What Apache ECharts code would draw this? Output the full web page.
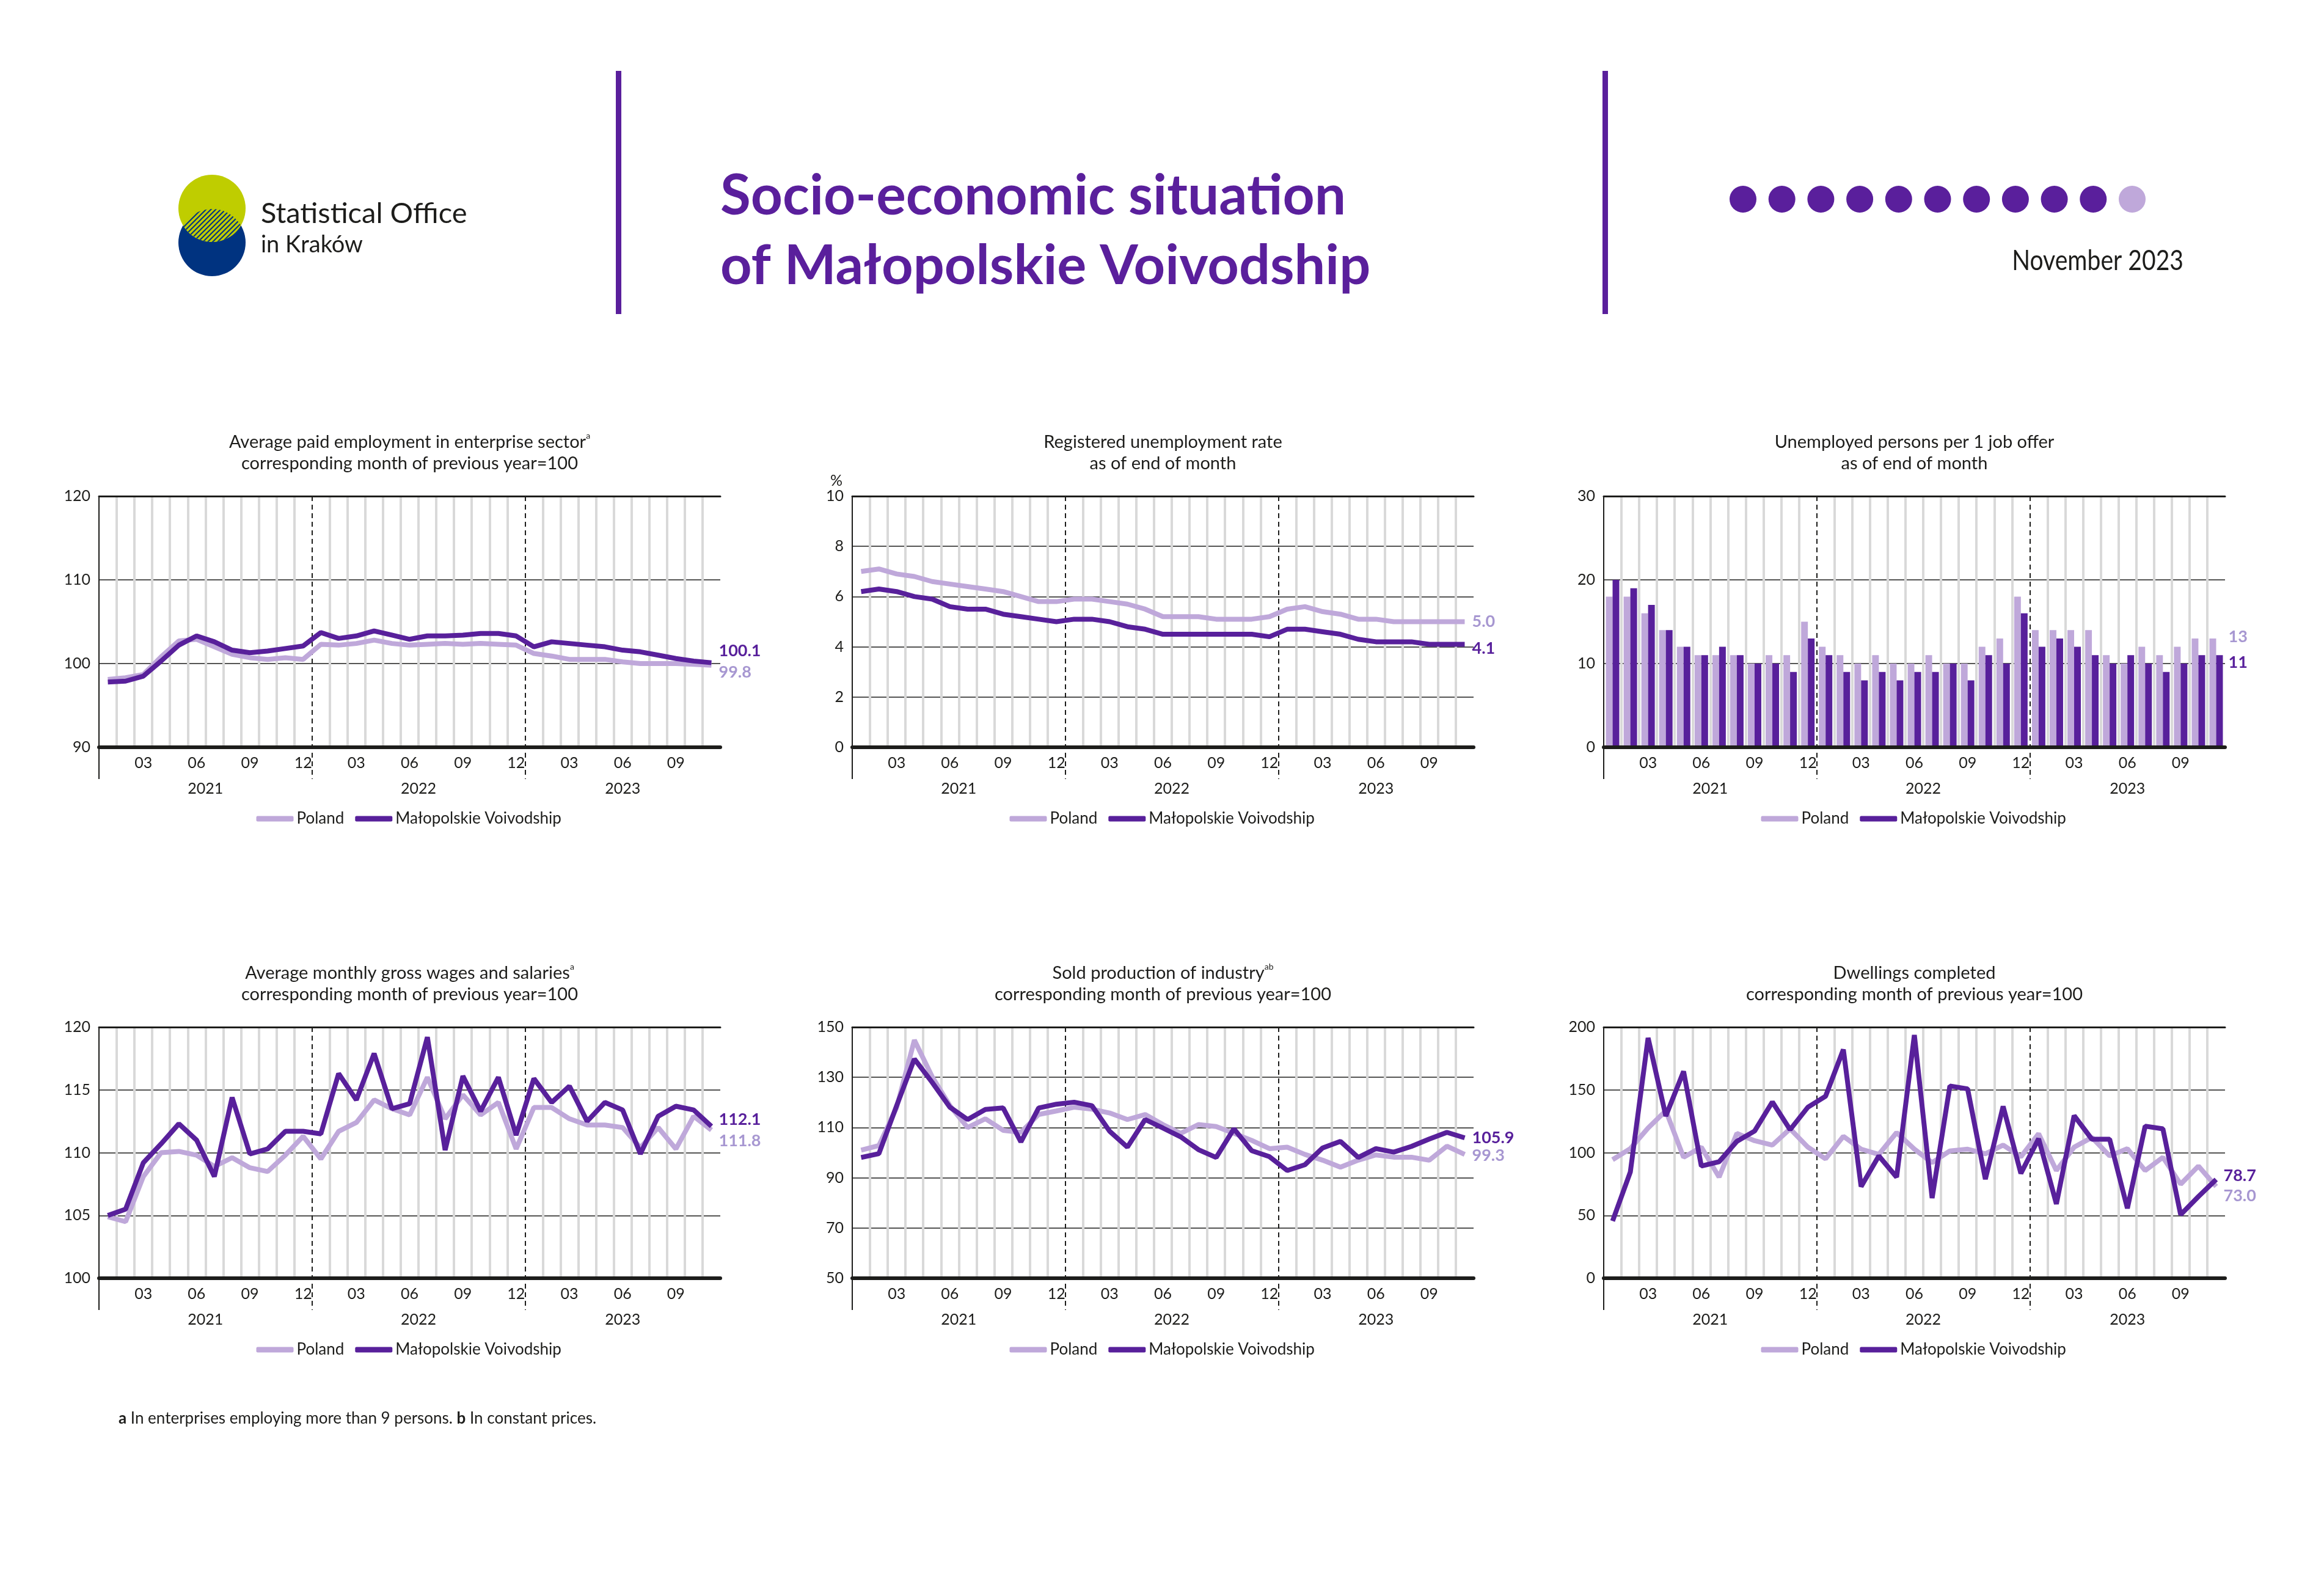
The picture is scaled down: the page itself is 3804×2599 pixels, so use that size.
<!DOCTYPE html>
<html lang="en">
<head>
<meta charset="UTF-8">
<title>Socio-economic situation of Małopolskie Voivodship</title>
<script src="https://cdn.jsdelivr.net/npm/echarts@6/dist/echarts.min.js"></script>
<style>
    html, body { margin: 0; padding: 0; background: #fff; }
    #main { width: 3804px; height: 2599px; }
</style>
</head>
<body>
<div id="main"></div>
<script>
// Jan 2021 .. Nov 2023
const months = ['01','02','03','04','05','06','07','08','09','10','11','12',
                '01','02','03','04','05','06','07','08','09','10','11','12',
                '01','02','03','04','05','06','07','08','09','10','11'];
const years = ['2021', '2022', '2023'];
const shownMonths = ['03', '06', '09', '12'];
const seriesNames = ['Poland', 'Małopolskie Voivodship'];

const employmentPoland = [98.1, 98.3, 98.7, 100.8, 102.7, 102.9, 102.0, 101.1, 100.7, 100.5, 100.7, 100.5,
    102.3, 102.2, 102.4, 102.8, 102.4, 102.2, 102.3, 102.4, 102.3, 102.4, 102.3, 102.2,
    101.2, 100.9, 100.5, 100.5, 100.5, 100.2, 100.0, 100.0, 100.0, 99.9, 99.8];
const employmentRegion = [97.8, 97.9, 98.5, 100.3, 102.2, 103.3, 102.6, 101.6, 101.3, 101.5, 101.8, 102.1,
    103.7, 103.0, 103.3, 103.9, 103.4, 102.9, 103.3, 103.3, 103.4, 103.6, 103.6, 103.3,
    102.0, 102.6, 102.4, 102.2, 102.0, 101.6, 101.4, 101.0, 100.6, 100.3, 100.1];

const unemploymentPoland = [7.0, 7.1, 6.9, 6.8, 6.6, 6.5, 6.4, 6.3, 6.2, 6.0, 5.8, 5.8,
    5.9, 5.9, 5.8, 5.7, 5.5, 5.2, 5.2, 5.2, 5.1, 5.1, 5.1, 5.2,
    5.5, 5.6, 5.4, 5.3, 5.1, 5.1, 5.0, 5.0, 5.0, 5.0, 5.0];
const unemploymentRegion = [6.2, 6.3, 6.2, 6.0, 5.9, 5.6, 5.5, 5.5, 5.3, 5.2, 5.1, 5.0,
    5.1, 5.1, 5.0, 4.8, 4.7, 4.5, 4.5, 4.5, 4.5, 4.5, 4.5, 4.4,
    4.7, 4.7, 4.6, 4.5, 4.3, 4.2, 4.2, 4.2, 4.1, 4.1, 4.1];

const jobOfferPoland = [18, 18, 16, 14, 12, 11, 11, 11, 10, 11, 11, 15,
    12, 11, 10, 11, 10, 10, 11, 10, 10, 12, 13, 18,
    14, 14, 14, 14, 11, 10, 12, 11, 12, 13, 13];
const jobOfferRegion = [20, 19, 17, 14, 12, 11, 12, 11, 10, 10, 9, 13,
    11, 9, 8, 9, 8, 9, 9, 10, 8, 11, 10, 16,
    12, 13, 12, 11, 10, 11, 10, 9, 10, 11, 11];

const wagesPoland = [104.9, 104.5, 108.1, 110.0, 110.1, 109.8, 108.9, 109.6, 108.8, 108.5, 109.8, 111.3,
    109.5, 111.7, 112.4, 114.2, 113.5, 113.0, 116.0, 112.7, 114.6, 113.0, 114.0, 110.3,
    113.6, 113.6, 112.7, 112.2, 112.2, 112.0, 110.4, 112.0, 110.3, 112.9, 111.8];
const wagesRegion = [105.0, 105.5, 109.2, 110.7, 112.3, 111.0, 108.1, 114.4, 109.9, 110.3, 111.7, 111.7,
    111.5, 116.3, 114.2, 117.9, 113.5, 113.9, 119.2, 110.2, 116.1, 113.3, 116.0, 111.4,
    115.9, 114.0, 115.3, 112.5, 114.0, 113.4, 109.9, 112.9, 113.7, 113.4, 112.1];

const productionPoland = [101.0, 102.8, 118.0, 144.8, 130.3, 118.7, 110.0, 113.5, 108.9, 108.1, 115.2, 116.6,
    118.1, 117.3, 115.8, 113.2, 115.2, 111.2, 107.7, 111.2, 110.4, 107.7, 104.9, 101.6,
    102.2, 99.3, 97.0, 94.2, 97.0, 99.1, 98.2, 98.2, 97.0, 102.6, 99.3];
const productionRegion = [98.1, 99.6, 118.7, 137.3, 128.0, 118.1, 113.2, 117.2, 117.8, 104.3, 117.8, 119.3,
    120.1, 118.7, 108.5, 102.2, 113.2, 109.8, 106.3, 101.2, 98.1, 109.5, 100.8, 98.4,
    92.9, 95.2, 101.9, 104.5, 98.1, 101.6, 100.2, 102.5, 105.4, 108.1, 105.9];

const dwellingsPoland = [94.4, 103.2, 119.6, 133.4, 96.3, 104.4, 80.5, 115.3, 109.5, 106.0, 119.0, 104.4,
    95.1, 113.0, 102.8, 98.6, 116.0, 102.8, 92.1, 101.4, 102.8, 99.1, 106.0, 96.7,
    115.1, 85.8, 104.4, 112.1, 97.4, 103.2, 85.8, 96.3, 74.9, 89.3, 73.0];
const dwellingsRegion = [45.6, 84.6, 191.4, 129.2, 164.7, 89.3, 92.8, 109.0, 117.2, 140.4, 118.3, 136.2,
    145.0, 182.1, 73.0, 97.4, 80.5, 193.7, 63.8, 153.1, 150.8, 78.9, 136.9, 83.5,
    111.1, 59.2, 129.5, 110.7, 110.7, 55.7, 121.1, 119.0, 50.6, 65.0, 78.7];

const perYear = 'corresponding month of previous year=100';
const endOfMonth = 'as of end of month';

const panels = [
    { title: 'Average paid employment in enterprise sector', sup: 'a', sub: perYear, min: 90, max: 120, step: 10,
      kind: 'line', poland: employmentPoland, region: employmentRegion, shift: [12, -19] },
    { title: 'Registered unemployment rate', sup: '', sub: endOfMonth, min: 0, max: 10, step: 2, unit: '%',
      kind: 'line', poland: unemploymentPoland, region: unemploymentRegion, shift: [0, 7] },
    { title: 'Unemployed persons per 1 job offer', sup: '', sub: endOfMonth, min: 0, max: 30, step: 10,
      kind: 'bar', poland: jobOfferPoland, region: jobOfferRegion, shift: [-3, 12] },
    { title: 'Average monthly gross wages and salaries', sup: 'a', sub: perYear, min: 100, max: 120, step: 5,
      kind: 'line', poland: wagesPoland, region: wagesRegion, shift: [18, -11] },
    { title: 'Sold production of industry', sup: 'ab', sub: perYear, min: 50, max: 150, step: 20,
      kind: 'line', poland: productionPoland, region: productionRegion, shift: [2, 0] },
    { title: 'Dwellings completed', sup: '', sub: perYear, min: 0, max: 200, step: 50,
      kind: 'line', poland: dwellingsPoland, region: dwellingsRegion, shift: [15, -6] }
];

// layout
const colLeft = [162, 1395, 2625];
const rowTop = [812, 1681];
const plotW = 1017, plotH = 411;
const below = 52;       // separators reach down into the year label band
const ink = '#1d1d1b';
const lightColor = '#bfa8da';
const darkColor = '#58209b';
const lightLabel = '#a797d1';
const font = 'Lato';
const clear = 'rgba(0,0,0,0)';

// year boundaries from the month list
const yearStarts = months.map((m, i) => (m === '01' && i > 0) ? i : -1).filter(i => i > 0);
const yearBounds = [0, ...yearStarts, months.length];
const yearCenters = years.map((y, i) => (yearBounds[i] + yearBounds[i + 1]) / 2);
// gray month separators, min and max lines skipped -> first drawn line is boundary 1
const monthLineColors = [];
for (let b = 1; b < months.length; b++) {
    monthLineColors.push(yearStarts.includes(b) ? clear : '#d9d9d9');
}

const grids = [], xAxes = [], yAxes = [], series = [], legends = [], graphics = [];

panels.forEach((p, g) => {
    const col = g % 3, row = Math.floor(g / 3);
    const left = colLeft[col], top = rowTop[row];
    const cx = left + plotW / 2;
    grids.push({ left: left, top: top, width: plotW, height: plotH, outerBoundsMode: 'none' });

    // months, gray month separators
    xAxes.push({
        type: 'category', gridIndex: g, data: months, position: 'bottom', boundaryGap: true,
        axisLine: { show: false }, axisTick: { show: false },
        axisLabel: { interval: 0, margin: 13, fontSize: 25, fontFamily: font, color: ink,
            formatter: v => shownMonths.includes(v) ? v : '' },
        splitLine: { show: true, interval: 0, showMinLine: false, showMaxLine: false,
            lineStyle: { color: monthLineColors, width: 4 } }
    });
    // years, base line, left axis extension
    xAxes.push({
        type: 'value', gridIndex: g, min: 0, max: months.length, position: 'bottom', z: 5,
        axisLine: { show: true, onZero: false, lineStyle: { color: ink, width: 6 } },
        axisTick: { show: true, customValues: [0], length: below, lineStyle: { color: ink, width: 2 } },
        axisLabel: { customValues: yearCenters, margin: 55, fontSize: 25, fontFamily: font, color: ink,
            formatter: v => years[yearCenters.indexOf(v)] || '' },
        splitLine: { show: false }
    });
    // top frame line; its inward ticks are the dashed year separators
    xAxes.push({
        type: 'value', gridIndex: g, min: 0, max: months.length, position: 'top',
        axisLine: { show: true, onZero: false, lineStyle: { color: ink, width: 3 } },
        axisTick: { show: true, inside: true, customValues: yearStarts, length: plotH + below,
            lineStyle: { color: ink, width: 2, type: [8, 6] } },
        axisLabel: { show: false }, splitLine: { show: false }
    });

    yAxes.push({
        type: 'value', gridIndex: g, min: p.min, max: p.max, interval: p.step,
        name: p.unit || '', nameLocation: 'end', nameGap: 8,
        nameTextStyle: { align: 'right', verticalAlign: 'bottom', padding: [0, 16, 0, 0], fontSize: 25, fontFamily: font, color: ink },
        axisLine: { show: true, lineStyle: { color: ink, width: 2 } },
        axisTick: { show: false },
        axisLabel: { margin: 14, fontSize: 25, fontFamily: font, color: ink },
        splitLine: { show: true, lineStyle: { color: ink, width: 1.5 } }
    });

    const xi = 3 * g;
    const last = months.length - 1;
    if (p.kind === 'bar') {
        const barLabel = (color, pos) => ({ show: true, position: pos, align: 'left', verticalAlign: 'middle',
            color: color, fontSize: 27, fontWeight: 'bold', fontFamily: font });
        series.push({
            name: seriesNames[0], type: 'bar', xAxisIndex: xi, yAxisIndex: g, color: lightColor,
            barWidth: 11, barGap: '0%',
            data: p.poland.map((v, i) => i === last ? { value: v, label: barLabel(lightLabel, [31, p.shift[0]]) } : v)
        });
        series.push({
            name: seriesNames[1], type: 'bar', xAxisIndex: xi, yAxisIndex: g, color: darkColor,
            barWidth: 11, barGap: '0%',
            data: p.region.map((v, i) => i === last ? { value: v, label: barLabel(darkColor, [20, p.shift[1]]) } : v)
        });
    } else {
        const endLabel = (color, dy) => ({ show: true, offset: [4, dy], color: color, fontSize: 27, fontWeight: 'bold',
            fontFamily: font, formatter: prm => Number(prm.value).toFixed(1) });
        series.push({
            name: seriesNames[0], type: 'line', xAxisIndex: xi, yAxisIndex: g, color: lightColor,
            symbol: 'none', lineStyle: { width: 8, color: lightColor }, data: p.poland,
            endLabel: endLabel(lightLabel, p.shift[0])
        });
        series.push({
            name: seriesNames[1], type: 'line', xAxisIndex: xi, yAxisIndex: g, color: darkColor,
            symbol: 'none', lineStyle: { width: 8, color: darkColor }, data: p.region,
            endLabel: endLabel(darkColor, p.shift[1])
        });
    }

    legends.push({
        left: cx - 256, top: top + plotH + 99, itemWidth: 61, itemHeight: 9, itemGap: 18,
        icon: 'roundRect', selectedMode: false, data: seriesNames,
        textStyle: { fontSize: 26, fontFamily: font, color: ink }
    });

    const sup = p.sup ? '{sup|' + p.sup + '}' : '';
    graphics.push({
        type: 'text', x: cx, y: top - 71, silent: true,
        style: {
            text: p.title + sup + '\n' + p.sub, align: 'center', verticalAlign: 'middle',
            fontSize: 29, fontFamily: font, fill: ink, lineHeight: 35,
            rich: { sup: { fontSize: 14, fontFamily: font, fill: ink, verticalAlign: 'top', lineHeight: 35 } }
        }
    });
});

// header: logo with hatched overlap of the two circles
const logoYellow = '#bfcd00';
const logoBlue = '#003380';
const purple = '#5a1f9c';
const stripe = document.createElement('canvas');
stripe.width = 8; stripe.height = 8;
const sc = stripe.getContext('2d');
sc.fillStyle = logoYellow; sc.fillRect(0, 0, 8, 8);
sc.strokeStyle = logoBlue; sc.lineWidth = 2;
sc.beginPath();
sc.moveTo(0, 8); sc.lineTo(8, 0);
sc.moveTo(-2, 2); sc.lineTo(2, -2);
sc.moveTo(6, 10); sc.lineTo(10, 6);
sc.stroke();

const Lens = echarts.graphic.extendShape({
    shape: { x1: 0, y1: 0, x2: 0, y2: 0, r: 0 },
    buildPath: function (ctx, s) {
        const h = (s.y2 - s.y1) / 2;
        const a = Math.asin(h / s.r);
        ctx.arc(s.x1, s.y1, s.r, a, Math.PI - a, false);
        ctx.arc(s.x2, s.y2, s.r, Math.PI + a, 2 * Math.PI - a, false);
        ctx.closePath();
    }
});
echarts.graphic.registerShape('lens', Lens);

graphics.push(
    { type: 'circle', shape: { cx: 347, cy: 397, r: 55 }, style: { fill: logoBlue }, silent: true },
    { type: 'circle', shape: { cx: 347, cy: 341, r: 55 }, style: { fill: logoYellow }, silent: true },
    { type: 'lens', shape: { x1: 347, y1: 341, x2: 347, y2: 397, r: 55 },
      style: { fill: { image: stripe, repeat: 'repeat' } }, silent: true },
    { type: 'text', x: 427, y: 350, silent: true,
      style: { text: 'Statistical Office', fontSize: 47, fontFamily: font, fill: ink, verticalAlign: 'middle' } },
    { type: 'text', x: 427, y: 401, silent: true,
      style: { text: 'in Kraków', fontSize: 38, fontFamily: font, fill: ink, verticalAlign: 'middle' } },
    { type: 'rect', shape: { x: 1008, y: 116, width: 9, height: 398 }, style: { fill: purple }, silent: true },
    { type: 'rect', shape: { x: 2623, y: 116, width: 9, height: 398 }, style: { fill: purple }, silent: true },
    { type: 'text', x: 1179, y: 322, silent: true,
      style: { text: 'Socio-economic situation', fontSize: 91, fontWeight: 'bold', fontFamily: font, fill: purple, verticalAlign: 'middle' } },
    { type: 'text', x: 1179, y: 436, silent: true,
      style: { text: 'of Małopolskie Voivodship', fontSize: 90, fontWeight: 'bold', fontFamily: font, fill: purple, verticalAlign: 'middle' } },
    { type: 'text', x: 3574, y: 427, scaleX: 0.85, silent: true,
      style: { text: 'November 2023', fontSize: 46, fontFamily: font, fill: ink, align: 'right', verticalAlign: 'middle' } },
    { type: 'text', x: 194, y: 2322, silent: true,
      style: { text: '{b|a} In enterprises employing more than 9 persons. {b|b} In constant prices.',
               fontSize: 26, fontFamily: font, fill: ink, verticalAlign: 'middle',
               rich: { b: { fontSize: 26, fontFamily: font, fontWeight: 'bold', fill: ink } } } }
);
// issue indicator dots (11th issue of the year)
for (let i = 0; i < 11; i++) {
    graphics.push({ type: 'circle', silent: true, shape: { cx: 2853 + 63.7 * i, cy: 326, r: 22 },
        style: { fill: i < 10 ? purple : lightColor } });
}

const chart = echarts.init(document.getElementById('main'));
chart.setOption({
    animation: false,
    backgroundColor: '#fff',
    textStyle: { fontFamily: font },
    grid: grids,
    xAxis: xAxes,
    yAxis: yAxes,
    legend: legends,
    series: series,
    graphic: graphics
});
</script>
</body>
</html>
